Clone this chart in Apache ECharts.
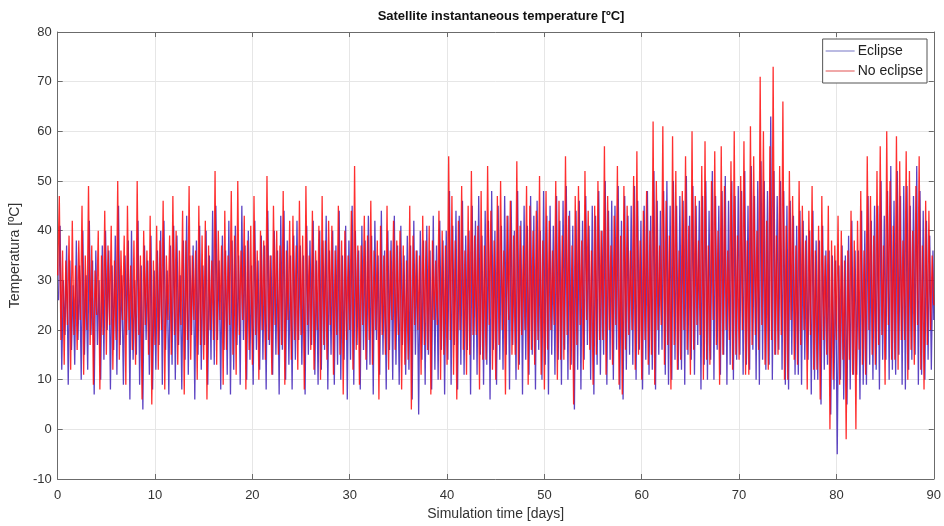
<!DOCTYPE html>
<html>
<head>
<meta charset="utf-8">
<script src="https://cdn.jsdelivr.net/npm/echarts@6/dist/echarts.min.js"></script>
<style>
html,body{margin:0;padding:0;background:#fff;}
#chart{width:944px;height:526px;}
</style>
</head>
<body>
<div id="chart"></div>
<script>
// Sampling: 6 samples per day
const samplesPerDay = 6;
const xTicks = [0, 10, 20, 30, 40, 50, 60, 70, 80, 90];
const yTicks = [-10, 0, 10, 20, 30, 40, 50, 60, 70, 80];

// "Eclipse" series, one row per day
const eclipse = [
26,41,12,30,19,37, 9,34,16,29,13,38, 18,33,10,40,15,31, 12,42,19,34,7,36, 17,30,10,37,14,40,
20,36,8,33,16,39, 11,45,17,31,9,35, 19,38,6,40,14,30, 15,42,9,33,4,37, 18,34,11,39,8,32,
12,36,17,40,9,42, 16,32,7,37,13,41, 10,39,17,31,8,38, 14,43,11,35,19,37, 6,38,15,41,12,33,
17,40,9,35,14,44, 13,45,18,34,8,39, 16,36,11,42,7,38, 12,41,17,35,9,45, 18,37,10,40,14,33,
9,42,16,34,12,39, 14,37,8,44,17,35, 11,40,15,36,7,43, 16,44,10,38,13,35, 8,39,14,42,18,37,
13,35,7,41,15,38, 17,42,11,34,9,40, 12,38,16,43,8,36, 15,40,9,37,13,44, 10,35,14,41,6,38,
14,45,9,40,17,36, 8,41,16,38,12,43, 13,39,7,42,18,35, 11,44,15,36,8,40, 16,38,10,43,13,37,
9,41,17,35,11,39, 12,37,6,42,15,36, 3,40,14,38,9,41, 15,36,8,43,12,37, 10,42,16,38,7,40,
14,48,9,41,17,44, 8,43,13,46,11,39, 16,40,7,45,14,42, 11,47,15,39,9,44, 13,42,6,48,16,40,
9,45,14,41,12,47, 15,43,8,46,17,40, 10,48,13,42,7,45, 14,41,11,47,15,43, 8,46,16,40,10,48,
13,43,7,45,15,41, 11,47,14,42,9,46, 16,49,10,44,13,41, 4,44,12,46,8,42, 14,47,17,41,10,45,
7,43,13,48,11,40, 15,50,9,44,14,46, 10,45,16,49,8,42, 6,47,12,43,15,45, 13,49,10,46,16,42,
8,45,14,48,11,43, 12,52,8,46,15,44, 16,48,11,50,9,45, 10,50,14,45,12,47, 12,46,9,51,15,43,
14,49,11,45,17,46, 8,47,13,50,10,44, 14,52,10,47,16,45, 11,48,15,51,9,46, 13,50,10,47,14,49,
15,48,11,52,13,45, 12,53,16,47,10,50, 9,54,14,50,12,48, 13,63,10,52,15,47, 16,50,12,48,9,45,
8,46,15,43,11,41, 11,44,9,42,14,39, 14,40,7,44,10,38, 10,38,5,41,12,36, 13,36,3,35,8,34,
-5,33,10,37,6,35, 5,39,8,42,11,36, 11,36,6,44,9,40, 9,47,13,42,10,45, 12,45,8,50,14,43,
14,48,10,53,12,46, 11,52,15,47,9,49, 8,49,12,45,14,47, 15,53,9,48,11,44, 10,42,14,39,12,36,
22
];

// "No eclipse" series, one row per day
const noEclipse = [
31,47,18,36,13,34, 21,39,12,42,19,33, 16,38,22,45,11,35, 20,49,17,37,9,32, 23,40,8,35,19,44,
15,37,21,41,12,34, 18,50,14,36,22,39, 9,45,20,33,16,38, 13,50,19,35,6,40, 21,36,15,43,5,34,
17,41,12,38,20,46, 8,35,22,39,15,47, 19,40,13,36,21,44, 7,38,18,49,14,35, 22,36,10,45,17,39,
14,42,6,37,20,34, 18,52,13,40,22,37, 9,44,16,35,21,48, 15,39,11,50,19,36, 22,43,8,38,16,41,
13,47,19,36,10,40, 20,38,14,51,18,35, 11,45,21,40,15,37, 17,48,9,36,22,42, 14,43,18,37,12,46,
19,39,8,49,21,35, 16,44,12,36,20,41, 10,47,17,38,14,42, 21,41,11,36,19,45, 15,38,7,40,18,35,
20,44,12,53,16,37, 9,37,21,43,14,39, 18,46,13,36,20,38, 6,41,19,35,15,45, 12,36,22,42,16,38,
19,40,8,37,13,34, 14,45,4,39,21,36, 20,35,11,43,17,38, 16,41,7,38,22,34, 21,44,10,40,15,37,
13,55,18,47,11,38, 6,42,20,49,16,36, 11,45,15,52,19,39, 19,41,8,48,14,37, 14,53,21,44,12,38,
10,47,17,50,20,36, 7,43,22,46,15,39, 15,54,12,41,19,37, 20,49,9,45,16,40, 13,44,18,51,11,38,
8,48,16,42,20,36, 21,50,10,46,14,39, 14,55,19,43,12,37, 5,47,17,49,21,38, 12,52,22,44,16,36,
9,45,15,50,18,40, 18,57,11,47,20,37, 13,43,21,53,9,39, 7,49,16,45,19,36, 20,51,12,56,15,38,
10,44,18,48,13,40, 15,62,9,50,20,37, 21,61,13,46,17,39, 8,59,17,52,12,36, 14,48,20,55,16,41,
11,60,16,47,21,38, 19,53,10,58,14,37, 13,50,22,56,17,40, 9,57,15,49,20,36, 18,54,12,60,15,39,
14,51,20,58,11,38, 11,61,17,55,19,40, 16,71,21,60,13,42, 12,57,18,73,15,39, 15,53,19,66,10,41,
10,52,22,47,14,37, 13,50,17,45,20,38, 8,44,19,49,12,36, 12,41,6,47,18,35, 15,45,0,38,10,37,
18,43,9,40,14,34, -2,36,14,44,11,38, 0,42,16,48,13,36, 11,55,20,47,15,39, 13,52,17,57,19,37,
9,60,21,50,14,41, 14,59,12,54,18,38, 18,56,10,52,16,40, 13,49,21,55,12,37, 8,46,17,44,20,35,
25
];

const eclipseData = eclipse.map((v, i) => [Math.min(90, (i + 0.5) / samplesPerDay), v]);
const noEclipseData = noEclipse.map((v, i) => [i / samplesPerDay, v]);

const font = 'Liberation Sans, Arial, Helvetica, sans-serif';
const axisColor = '#6b6b6b';
const gridColor = '#e6e6e6';
const labelColor = '#333333';

const chart = echarts.init(document.getElementById('chart'), null, {renderer: 'canvas'});
chart.setOption({
  animation: false,
  backgroundColor: '#ffffff',
  title: {
    text: 'Satellite instantaneous temperature [ºC]',
    left: 496,
    top: 5,
    textAlign: 'center',
    textStyle: {fontFamily: font, fontSize: 13, fontWeight: 'bold', color: '#111'}
  },
  legend: {
    orient: 'vertical',
    right: 17,
    top: 39,
    padding: [5, 4, 5, 3],
    itemGap: 6,
    itemWidth: 29,
    itemHeight: 1,
    icon: 'rect',
    backgroundColor: '#ffffff',
    borderColor: '#555555',
    borderWidth: 1,
    borderRadius: 0,
    textStyle: {fontFamily: font, fontSize: 14, color: '#222', padding: [0, 0, 0, -2]},
    data: ['Eclipse', 'No eclipse']
  },
  grid: {left: 57, right: 9, top: 32, bottom: 45, containLabel: false},
  xAxis: [{
    type: 'value', min: 0, max: 90, interval: 10,
    name: 'Simulation time [days]', nameLocation: 'middle', nameGap: 28,
    nameTextStyle: {fontFamily: font, fontSize: 14, color: labelColor},
    axisLine: {show: true, onZero: false, lineStyle: {color: axisColor, width: 1}},
    axisTick: {show: true, inside: true, length: 5, lineStyle: {color: axisColor}},
    axisLabel: {fontFamily: font, fontSize: 13, color: labelColor, margin: 10,
      formatter: v => xTicks.includes(v) ? String(v) : ''},
    splitLine: {show: true, lineStyle: {color: gridColor, width: 1}}
  }, {
    type: 'value', min: 0, max: 90, interval: 10, position: 'top',
    axisLine: {show: true, onZero: false, lineStyle: {color: axisColor, width: 1}},
    axisTick: {show: true, inside: true, length: 5, lineStyle: {color: axisColor}},
    axisLabel: {show: false}, splitLine: {show: false}
  }],
  yAxis: [{
    type: 'value', min: -10, max: 80, interval: 10,
    name: 'Temperatura [ºC]', nameLocation: 'middle', nameGap: 30, nameRotate: 90,
    nameTextStyle: {fontFamily: font, fontSize: 14, color: labelColor},
    axisLine: {show: true, onZero: false, lineStyle: {color: axisColor, width: 1}},
    axisTick: {show: true, inside: true, length: 5, lineStyle: {color: axisColor}},
    axisLabel: {fontFamily: font, fontSize: 13, color: labelColor, margin: 6,
      formatter: v => yTicks.includes(v) ? String(v) : ''},
    splitLine: {show: true, lineStyle: {color: gridColor, width: 1}}
  }, {
    type: 'value', min: -10, max: 80, interval: 10, position: 'right',
    axisLine: {show: true, onZero: false, lineStyle: {color: axisColor, width: 1}},
    axisTick: {show: true, inside: true, length: 5, lineStyle: {color: axisColor}},
    axisLabel: {show: false}, splitLine: {show: false}
  }],
  series: [{
    name: 'Eclipse', type: 'line', data: eclipseData, xAxisIndex: 0, yAxisIndex: 0,
    symbol: 'none', clip: true, sampling: null, progressive: 0,
    lineStyle: {color: '#4022b8', width: 1.3, opacity: 0.85},
    itemStyle: {color: '#7474c4'}
  }, {
    name: 'No eclipse', type: 'line', data: noEclipseData, xAxisIndex: 0, yAxisIndex: 0,
    symbol: 'none', clip: true, sampling: null, progressive: 0,
    lineStyle: {color: '#ff0a0a', width: 1.3, opacity: 0.85},
    itemStyle: {color: '#e05050'}
  }]
});
</script>
</body>
</html>
